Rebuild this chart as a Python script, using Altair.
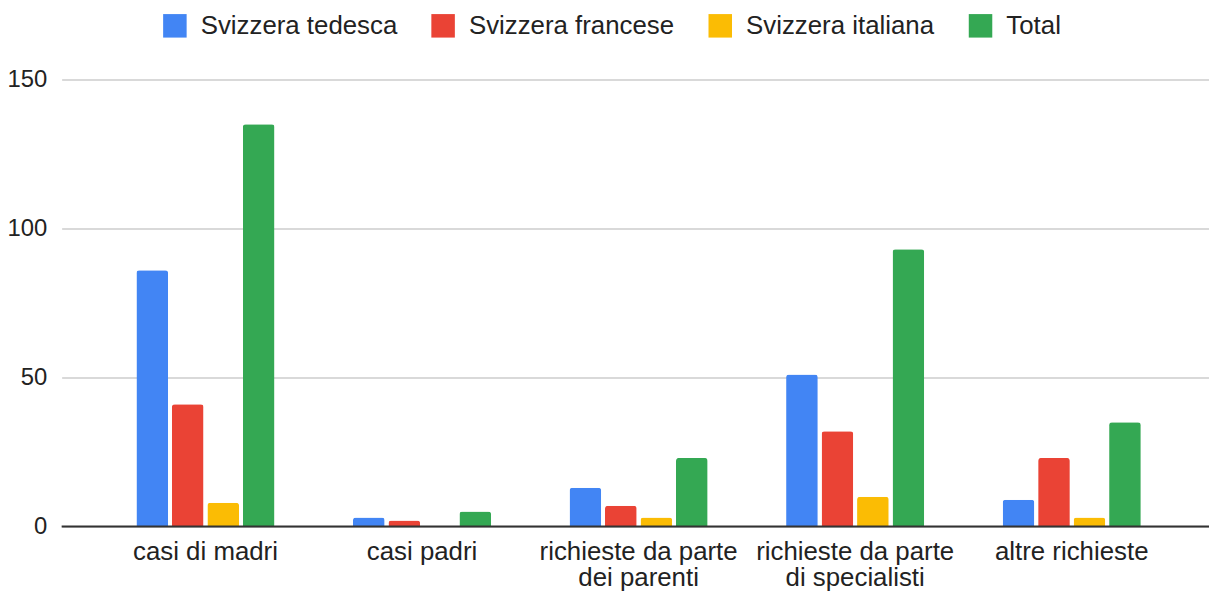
import altair as alt
import pandas as pd

categories = ["casi di madri", "casi padri", "richieste da parte dei parenti",
              "richieste da parte di specialisti", "altre richieste"]
series = ["Svizzera tedesca", "Svizzera francese", "Svizzera italiana", "Total"]
colors = ["#4285F4", "#EA4335", "#FBBC04", "#34A853"]

tedesca = [86, 3, 13, 51, 9]
francese = [41, 2, 7, 32, 23]
italiana = [8, 0, 3, 10, 3]
total = [135, 5, 23, 93, 35]

line_breaks = {
    "richieste da parte dei parenti": ["richieste da parte", "dei parenti"],
    "richieste da parte di specialisti": ["richieste da parte", "di specialisti"],
}

rows = []
for s, vals in zip(series, [tedesca, francese, italiana, total]):
    for c, v in zip(categories, vals):
        rows.append({"category": c, "series": s, "value": v})
df = pd.DataFrame(rows)

label_expr = "datum.value"
for k, v in line_breaks.items():
    arr = "[" + ", ".join("'" + p + "'" for p in v) + "]"
    label_expr = f"datum.value == '{k}' ? {arr} : ({label_expr})"

FONT = "Liberation Sans"
yscale = alt.Scale(domain=[0, 150], nice=False, zero=True)

bars = alt.Chart(df).mark_bar(cornerRadiusTopLeft=3, cornerRadiusTopRight=3).encode(
    x=alt.X("category:N", sort=categories,
            scale=alt.Scale(paddingInner=0.362, paddingOuter=0.33, align=0.523),
            axis=alt.Axis(title=None, labelExpr=label_expr, labelAngle=0,
                          labelFontSize=26, labelColor="#222222", labelPadding=12,
                          labelLineHeight=26, ticks=False, domain=False, grid=False,
                          labelFont=FONT, labelLimit=400)),
    xOffset=alt.XOffset("series:N", sort=series,
                        scale=alt.Scale(paddingInner=0.106, paddingOuter=0)),
    y=alt.Y("value:Q", scale=yscale,
            axis=alt.Axis(title=None, values=[0, 50, 100, 150], gridColor="#cccccc",
                          gridWidth=1.5, domain=False, ticks=False, labelPadding=15,
                          labelFontSize=24, labelColor="#222222", labelFont=FONT)),
    color=alt.Color("series:N", sort=series,
                    scale=alt.Scale(domain=series, range=colors),
                    legend=alt.Legend(orient="none", legendX=101, legendY=-67,
                                      direction="horizontal", title=None,
                                      symbolType="square", symbolSize=560,
                                      symbolStrokeWidth=0, labelFontSize=26,
                                      labelFont=FONT, labelColor="#222222",
                                      labelOffset=13, columnPadding=33,
                                      labelLimit=400)),
)

rule = alt.Chart(pd.DataFrame({"y": [0]})).mark_rule(color="#333333", strokeWidth=2).encode(
    y=alt.Y("y:Q", scale=yscale)
)

chart = alt.layer(bars, rule).properties(
    width=1155, height=450,
    autosize=alt.AutoSizeParams(type="none"),
    padding={"left": 54, "top": 70, "right": 0, "bottom": 66},
).configure(font=FONT).configure_view(stroke=None, strokeWidth=0)

chart.save("out.html", embed_options={"renderer": "svg", "actions": False})
